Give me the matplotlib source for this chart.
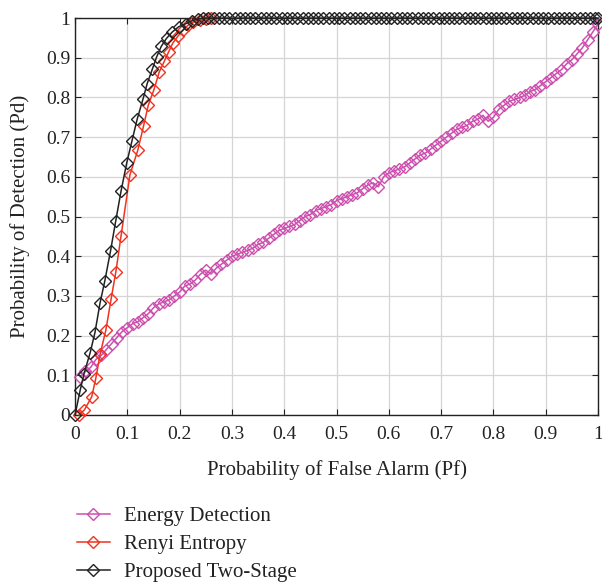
import matplotlib
matplotlib.use("Agg")
import matplotlib.pyplot as plt
from matplotlib.ticker import FuncFormatter

# ---- data ----
energy_pf = [0.01, 0.02, 0.03, 0.04, 0.05, 0.06, 0.07, 0.08, 0.09, 0.10,
             0.11, 0.12, 0.13, 0.14, 0.15, 0.16, 0.17, 0.18, 0.19, 0.20,
             0.21, 0.22, 0.23, 0.24, 0.25, 0.26, 0.27, 0.28, 0.29, 0.30,
             0.31, 0.32, 0.33, 0.34, 0.35, 0.36, 0.37, 0.38, 0.39, 0.40,
             0.41, 0.42, 0.43, 0.44, 0.45, 0.46, 0.47, 0.48, 0.49, 0.50,
             0.51, 0.52, 0.53, 0.54, 0.55, 0.56, 0.57, 0.58, 0.59, 0.60,
             0.61, 0.62, 0.63, 0.64, 0.65, 0.66, 0.67, 0.68, 0.69, 0.70,
             0.71, 0.72, 0.73, 0.74, 0.75, 0.76, 0.77, 0.78, 0.79, 0.80,
             0.81, 0.82, 0.83, 0.84, 0.85, 0.86, 0.87, 0.88, 0.89, 0.90,
             0.91, 0.92, 0.93, 0.94, 0.95, 0.96, 0.97, 0.98, 0.99, 1.00]
energy_pd = [0.096, 0.11, 0.12, 0.14, 0.15, 0.165, 0.18, 0.195, 0.21, 0.22,
             0.23, 0.235, 0.245, 0.255, 0.27, 0.28, 0.285, 0.29, 0.30, 0.31,
             0.325, 0.33, 0.34, 0.355, 0.365, 0.355, 0.37, 0.38, 0.39, 0.40,
             0.405, 0.41, 0.415, 0.42, 0.43, 0.435, 0.445, 0.455, 0.465, 0.47,
             0.475, 0.48, 0.49, 0.50, 0.505, 0.515, 0.52, 0.525, 0.53, 0.54,
             0.545, 0.55, 0.555, 0.56, 0.57, 0.58, 0.585, 0.575, 0.60, 0.61,
             0.615, 0.62, 0.625, 0.635, 0.645, 0.655, 0.66, 0.67, 0.68, 0.69,
             0.70, 0.71, 0.72, 0.725, 0.73, 0.74, 0.745, 0.755, 0.74, 0.75,
             0.77, 0.78, 0.79, 0.795, 0.80, 0.805, 0.815, 0.82, 0.83, 0.84,
             0.85, 0.86, 0.87, 0.885, 0.895, 0.91, 0.925, 0.945, 0.965, 0.985]

renyi_pf = [0.008, 0.018, 0.032, 0.040, 0.048, 0.059, 0.069, 0.078, 0.088,
            0.105, 0.120, 0.131, 0.140, 0.151, 0.161, 0.171, 0.179, 0.187,
            0.197, 0.207, 0.216, 0.226, 0.239, 0.250, 0.260]
renyi_pd = [0.0, 0.013, 0.046, 0.094, 0.153, 0.214, 0.292, 0.360, 0.451,
            0.605, 0.667, 0.728, 0.780, 0.820, 0.864, 0.892, 0.915, 0.937,
            0.955, 0.970, 0.982, 0.990, 0.995, 0.997, 1.0]

two_stage_pf = [0.0, 0.010, 0.017, 0.029, 0.038, 0.048, 0.057, 0.068, 0.078,
                0.088, 0.099, 0.109, 0.119, 0.130, 0.138, 0.148, 0.156, 0.165,
                0.175, 0.186, 0.198, 0.212, 0.223, 0.235,
                0.245, 0.255, 0.265, 0.275, 0.285, 0.295, 0.305, 0.315, 0.325,
                0.335, 0.345, 0.355, 0.365, 0.375, 0.385, 0.395, 0.405, 0.415,
                0.425, 0.435, 0.445, 0.455, 0.465, 0.475, 0.485, 0.495, 0.505,
                0.515, 0.525, 0.535, 0.545, 0.555, 0.565, 0.575, 0.585, 0.595,
                0.605, 0.615, 0.625, 0.635, 0.645, 0.655, 0.665, 0.675, 0.685,
                0.695, 0.705, 0.715, 0.725, 0.735, 0.745, 0.755, 0.765, 0.775,
                0.785, 0.795, 0.805, 0.815, 0.825, 0.835, 0.845, 0.855, 0.865,
                0.875, 0.885, 0.895, 0.905, 0.915, 0.925, 0.935, 0.945, 0.955,
                0.965, 0.975, 0.985, 0.995, 1.0]
two_stage_pd = [0.0, 0.063, 0.103, 0.157, 0.207, 0.283, 0.338, 0.414, 0.49,
                0.564, 0.636, 0.691, 0.746, 0.796, 0.835, 0.872, 0.902, 0.929,
                0.949, 0.965, 0.978, 0.986, 0.993, 0.998,
                1.0, 1.0, 1.0, 1.0, 1.0, 1.0, 1.0, 1.0, 1.0,
                1.0, 1.0, 1.0, 1.0, 1.0, 1.0, 1.0, 1.0, 1.0,
                1.0, 1.0, 1.0, 1.0, 1.0, 1.0, 1.0, 1.0, 1.0,
                1.0, 1.0, 1.0, 1.0, 1.0, 1.0, 1.0, 1.0, 1.0,
                1.0, 1.0, 1.0, 1.0, 1.0, 1.0, 1.0, 1.0, 1.0,
                1.0, 1.0, 1.0, 1.0, 1.0, 1.0, 1.0, 1.0, 1.0,
                1.0, 1.0, 1.0, 1.0, 1.0, 1.0, 1.0, 1.0, 1.0,
                1.0, 1.0, 1.0, 1.0, 1.0, 1.0, 1.0, 1.0, 1.0,
                1.0, 1.0, 1.0, 1.0, 1.0]

ticks = [0, 0.1, 0.2, 0.3, 0.4, 0.5, 0.6, 0.7, 0.8, 0.9, 1]
labels = ["Energy Detection", "Renyi Entropy", "Proposed Two-Stage"]
colors = ["#CC4FAE", "#F0321E", "#222222"]

# ---- plot ----
plt.rcParams["font.family"] = ["Liberation Serif", "DejaVu Serif"]
fig = plt.figure(figsize=(6.02, 5.84), dpi=100)
ax = fig.add_axes([0.1246, 0.2894, 0.9934 - 0.1246, 0.969 - 0.2894])

series = [(energy_pf, energy_pd), (renyi_pf, renyi_pd), (two_stage_pf, two_stage_pd)]
for (x, y), lab, c in zip(series, labels, colors):
    ax.plot(x, y, color=c, lw=1.1, marker="D", markersize=6.0,
            markerfacecolor="none", markeredgecolor=c, markeredgewidth=1.0,
            label=lab, clip_on=False, zorder=3)

ax.set_xlim(0, 1)
ax.set_ylim(0, 1)
ax.set_xticks(ticks)
ax.set_yticks(ticks)
fmt = FuncFormatter(lambda v, p: "%g" % v)
ax.xaxis.set_major_formatter(fmt)
ax.yaxis.set_major_formatter(fmt)
ax.tick_params(direction="in", top=True, right=True, length=4, width=0.8,
               labelsize=14, colors="#222222")
ax.tick_params(axis="x", pad=8)
ax.tick_params(axis="y", pad=3.5)
ax.grid(True, color="#d5d5d5", lw=0.9)
ax.set_axisbelow(True)
for s in ax.spines.values():
    s.set_linewidth(1.0)
    s.set_color("#222222")

ax.set_xlabel("Probability of False Alarm (Pf)", fontsize=15, labelpad=12, color="#222222")
ax.set_ylabel("Probability of Detection (Pd)", fontsize=15, labelpad=11, color="#222222")

fig.legend(loc="upper left", bbox_to_anchor=(0.111, 0.150), frameon=False,
           fontsize=15, handlelength=1.55, handletextpad=0.7, labelspacing=0.4,
           borderpad=0, labelcolor="#222222")

fig.savefig("out.png", dpi=100)
